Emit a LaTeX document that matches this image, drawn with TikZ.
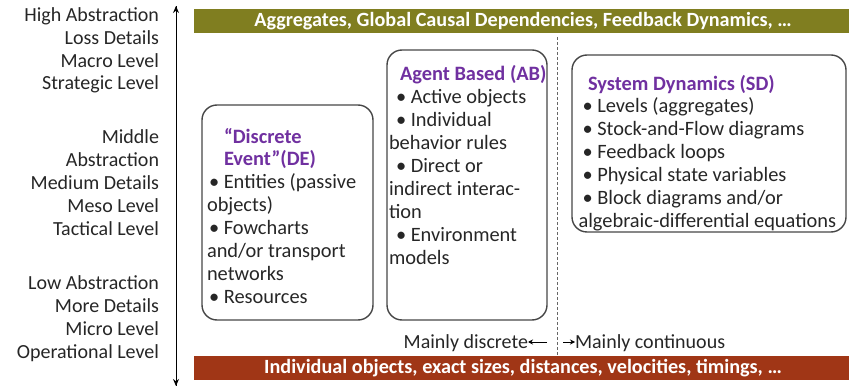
\documentclass[tikz,border=0pt]{standalone}
\usepackage{fontspec}
\setmainfont{Carlito}
\usetikzlibrary{arrows.meta}
\definecolor{olivebar}{RGB}{128,126,32}
\definecolor{rustbar}{RGB}{160,54,22}
\definecolor{titlepurple}{RGB}{112,48,160}
\definecolor{edgegray}{RGB}{70,70,70}
\definecolor{inkgray}{RGB}{38,38,38}
\begin{document}
\begin{tikzpicture}[x=1pt,y=-1pt,
  every node/.style={inner sep=0pt,outer sep=0pt},
  txt/.style={font=\fontsize{20}{22.8}\selectfont,text=inkgray},
  levels/.style={txt,align=right,anchor=north east},
  body/.style={txt,font=\fontsize{20.4}{22.9}\selectfont,align=left,anchor=north west},
  bartext/.style={font=\fontsize{20.2}{22.8}\selectfont\bfseries,text=white},
  paradigm/.style={draw=edgegray,line width=1.4pt,rounded corners=15pt,anchor=north west},
  divider/.style={draw=gray!80!black,line width=0.9pt,dash pattern=on 3pt off 2pt},
  scalearrow/.style={draw=black,line width=1pt,-{Stealth[length=7pt,width=6pt]}},
  smallarrow/.style={draw=black,line width=0.9pt,-{Stealth[length=5pt,width=5pt]}}
]
\useasboundingbox (0,0) rectangle (852,387);

% coloured bands at the top and bottom
\fill[olivebar] (194,9) rectangle (849,33);
\node[bartext] (topband) at (523,21.5) {Aggregates, Global Causal Dependencies, Feedback Dynamics, \dots};
\fill[rustbar] (194,356) rectangle (849,380);
\node[bartext] (botband) at (523,368.5) {Individual objects, exact sizes, distances, velocities, timings, \dots};

% abstraction scale
\coordinate (scaletop) at (176,6);
\coordinate (scalebot) at (176,386);
\draw[scalearrow] (scalebot) -- (scaletop);
\draw[scalearrow] (scaletop) -- (scalebot);

\node[levels] (high) at (159,5.5) {\strut High Abstraction\\Loss Details\\Macro Level\\Strategic Level};
\node[levels] (mid) at (159,128) {\strut Middle\\Abstraction\\Medium Details\\Meso Level\\Tactical Level};
\node[levels] (low) at (159,274) {\strut Low Abstraction\\More Details\\Micro Level\\Operational Level};

% discrete / continuous divider
\coordinate (divtop) at (557,37);
\coordinate (divbot) at (557,356);
\draw[divider] (divtop) -- (divbot);

% paradigm boxes
\node[paradigm,minimum width=171pt,minimum height=215pt] (de) at (202,105) {};
\node[body] (detext) at (207,127) {\strut\hspace{17pt}{\bfseries\color{titlepurple}“Discrete}\\
\hspace{17pt}{\bfseries\color{titlepurple}Event”(DE)}\\
\hspace{2pt}• Entities (passive\\objects)\\
\hspace{2pt}• Fowcharts\\and/or transport\\networks\\
\hspace{2pt}• Resources};

\node[paradigm,minimum width=160pt,minimum height=270pt] (ab) at (387,50) {};
\node[body,font=\fontsize{20.4}{23.1}\selectfont] (abtext) at (389,64) {\strut\hspace{11pt}{\bfseries\color{titlepurple}Agent Based (AB)}\\
\hspace{7pt}• Active objects\\
\hspace{7pt}• Individual\\behavior rules\\
\hspace{7pt}• Direct or\\indirect interac-\\tion\\
\hspace{7pt}• Environment\\models};

\node[paradigm,minimum width=274pt,minimum height=177pt] (sd) at (572,55) {};
\node[body] (sdtext) at (578.5,74) {\strut\hspace{9.5pt}{\bfseries\color{titlepurple}System Dynamics (SD)}\\
\hspace{4pt}• Levels (aggregates)\\
\hspace{4pt}• Stock-and-Flow diagrams\\
\hspace{4pt}• Feedback loops\\
\hspace{4pt}• Physical state variables\\
\hspace{4pt}• Block diagrams and/or\\
algebraic-differential equations};

% direction labels either side of the divider
\node[txt,anchor=east] (disc) at (528,343) {Mainly discrete};
\node[txt,anchor=west] (cont) at (575,343) {Mainly continuous};
\coordinate (discfrom) at (547,342);
\coordinate (contfrom) at (563,342);
\draw[smallarrow] (discfrom) -- (disc.east |- discfrom);
\draw[smallarrow] (contfrom) -- (cont.west |- contfrom);
\end{tikzpicture}
\end{document}
